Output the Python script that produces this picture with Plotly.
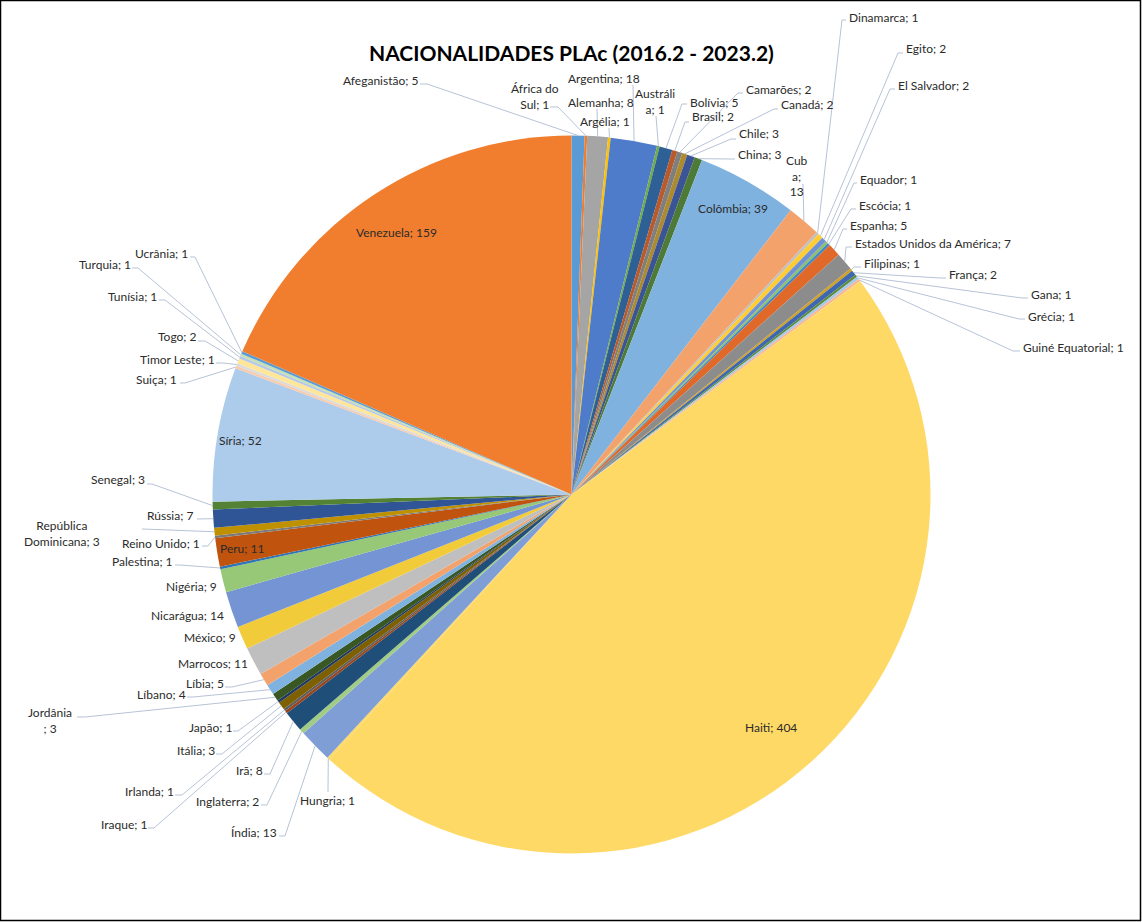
import math
import plotly.graph_objects as go

# ---------------- data ----------------
categories = [
    "Afeganistão", "África do Sul", "Alemanha", "Argélia", "Argentina", "Austrália",
    "Bolívia", "Brasil", "Camarões", "Canadá", "Chile", "China",
    "Colômbia", "Cuba", "Dinamarca", "Egito", "El Salvador", "Equador",
    "Escócia", "Espanha", "Estados Unidos da América", "Filipinas", "França", "Gana",
    "Grécia", "Guiné Equatorial", "Haiti", "Hungria", "Índia", "Inglaterra",
    "Irã", "Iraque", "Irlanda", "Itália", "Japão", "Jordânia",
    "Líbano", "Líbia", "Marrocos", "México", "Nicarágua", "Nigéria",
    "Palestina", "Peru", "Reino Unido", "República Dominicana", "Rússia", "Senegal",
    "Síria", "Suiça", "Timor Leste", "Togo", "Tunísia", "Turquia",
    "Ucrânia", "Venezuela",
]
values = [
    5, 1, 8, 1, 18, 1,
    5, 2, 2, 2, 3, 3,
    39, 13, 1, 2, 2, 1,
    1, 5, 7, 1, 2, 1,
    1, 1, 404, 1, 13, 2,
    8, 1, 1, 3, 1, 3,
    4, 5, 11, 9, 14, 9,
    1, 11, 1, 3, 7, 3,
    52, 1, 1, 2, 1, 1,
    1, 159,
]
title_text = "NACIONALIDADES PLAc (2016.2 - 2023.2)"

# ---------------- styles ----------------
colors = [
    "#5B9BD5", "#ED7D31", "#A5A5A5", "#FFC000", "#4F7BCB", "#70AD47",
    "#2E6096", "#B85A2C", "#7F7F7F", "#AD8A2E", "#3B5496", "#4E7A38",
    "#80B2E0", "#F4A26C", "#BFBFBF", "#FFCD33", "#7092D4", "#8CC168",
    "#3E87C8", "#E0692A", "#8C8C8C", "#D0A020", "#3F66B0", "#5C8C3C",
    "#A6C8EA", "#F6B894", "#FFD966", "#FFD966", "#7F9ED6", "#A0CC84",
    "#1F4E79", "#9A4318", "#5F5F5F", "#7F6000", "#203864", "#385723",
    "#80B2E0", "#F4A26C", "#BFBFBF", "#F2CB3A", "#7494D4", "#96C878",
    "#2E75B6", "#C0540F", "#7B7B7B", "#BF9000", "#2F5597", "#548235",
    "#ADCBEA", "#F8CBAD", "#DBDBDB", "#FFE699", "#B4C7E7", "#C5E0B4",
    "#5B9BD5", "#F07E2E",
]

W, H = 1142, 922
CX, CY, R = 571.5, 494.5, 359
LABEL_FONT = dict(family="Lato", size=12, color="#2b2b2b")
LEADER = "#B7C3D7"

# text wrapping used by the original labels
wraps = {
    "África do Sul": "África do<br>Sul; {v}",
    "Austrália": "Austráli<br>a; {v}",
    "Cuba": "Cub<br>a;<br>{v}",
    "Jordânia": "Jordânia<br>; {v}",
    "República Dominicana": "República<br>Dominicana; {v}",
}

# label placement (pixels): anchor, x, y, leader end (x, y), elbow x
label_pos = {
    "Afeganistão": ("right", 419, 80, (420, 84), 427),
    "África do Sul": ("center", 535, 96, (550, 107), 558),
    "Alemanha": ("center", 601, 102, (597, 109), None),
    "Argélia": ("center", 605, 122, (609, 128), None),
    "Argentina": ("center", 604, 78, (633, 85), None),
    "Austrália": ("center", 655, 101, (656, 116), None),
    "Bolívia": ("left", 689, 102, (687, 104), 682),
    "Brasil": ("left", 691, 117, (689, 122), 685),
    "Camarões": ("left", 745, 89, (743, 93), 738),
    "Canadá": ("left", 780, 105, (778, 109), 774),
    "Chile": ("left", 738, 134, (736, 139), 731),
    "China": ("left", 737, 154, (735, 159), 730),
    "Colômbia": ("center", 733, 208, None, None),
    "Cuba": ("center", 797, 176, (803, 184), None),
    "Dinamarca": ("left", 848, 17, (846, 20), 842),
    "Egito": ("left", 905, 49, (903, 53), 898),
    "El Salvador": ("left", 897, 85, (895, 89), 890),
    "Equador": ("left", 859, 179, (857, 183), 854),
    "Escócia": ("left", 858, 205, (856, 209), 851),
    "Espanha": ("left", 849, 225, (847, 229), 843),
    "Estados Unidos da América": ("left", 854, 244, (852, 247), 846),
    "Filipinas": ("left", 863, 263, (861, 267), 854),
    "França": ("left", 948, 274, (946, 278), 940),
    "Gana": ("left", 1030, 294, (1028, 298), 1022),
    "Grécia": ("left", 1027, 316, (1025, 319), 1019),
    "Guiné Equatorial": ("left", 1022, 347, (1020, 351), 1013),
    "Haiti": ("center", 771, 727, None, None),
    "Hungria": ("center", 328, 800, (328, 792), None),
    "Índia": ("right", 278, 832, (279, 836), 285),
    "Inglaterra": ("right", 260, 801, (261, 805), 267),
    "Irã": ("right", 264, 770, (264, 774), 270),
    "Iraque": ("right", 148, 824, (148, 828), 154),
    "Irlanda": ("right", 175, 791, (175, 795), 182),
    "Itália": ("right", 216, 750, (216, 754), 222),
    "Japão": ("right", 233, 727, (233, 731), 238),
    "Jordânia": ("center", 50, 720, (77, 717), 85),
    "Líbano": ("right", 187, 694, (187, 697), 193),
    "Líbia": ("right", 225, 683, (225, 687), 232),
    "Marrocos": ("right", 249, 663, None, None),
    "México": ("right", 237, 637, None, None),
    "Nicarágua": ("right", 225, 615, None, None),
    "Nigéria": ("right", 218, 586, None, None),
    "Palestina": ("right", 174, 561, (175, 565), 180),
    "Peru": ("center", 242, 548, None, None),
    "Reino Unido": ("right", 201, 543, (202, 546), 208),
    "República Dominicana": ("center", 62, 533, (142, 529), None),
    "Rússia": ("right", 194, 515, (197, 519), None),
    "Senegal": ("right", 146, 480, (147, 484), 152),
    "Síria": ("center", 240, 441, None, None),
    "Suiça": ("right", 178, 379, (180, 383), 185),
    "Timor Leste": ("right", 216, 360, (216, 363), 223),
    "Togo": ("right", 198, 337, (198, 341), 205),
    "Tunísia": ("right", 158, 296, (159, 300), 165),
    "Turquia": ("right", 132, 264, (132, 268), 138),
    "Ucrânia": ("right", 189, 253, (190, 257), 195),
    "Venezuela": ("center", 396, 233, None, None),
}


def px(x):
    return x / W


def py(y):
    return 1 - y / H


fig = go.Figure(
    go.Pie(
        labels=categories,
        values=values,
        sort=False,
        direction="clockwise",
        rotation=0,
        marker=dict(colors=colors, line=dict(width=0)),
        textinfo="none",
        hoverinfo="label+value+percent",
        showlegend=False,
        domain=dict(x=[(CX - R) / W, (CX + R) / W], y=[(H - CY - R) / H, (H - CY + R) / H]),
    )
)

total = sum(values)
annotations = []
shapes = []
cum = 0.0
for name, v in zip(categories, values):
    mid = (cum + v / 2) / total * 2 * math.pi
    cum += v
    ex0 = CX + R * math.sin(mid)
    ey0 = CY - R * math.cos(mid)
    anchor, lx, ly, end, elbow = label_pos[name]
    text = wraps.get(name, "{n}; {v}").format(n=name, v=v)
    annotations.append(dict(
        x=px(lx), y=py(ly), xref="paper", yref="paper", text=text,
        showarrow=False, xanchor=anchor, yanchor="middle", align="center",
        font=LABEL_FONT, borderpad=0,
    ))
    if end is not None:
        pts = [(ex0, ey0)]
        if elbow is not None:
            pts.append((elbow, end[1]))
        pts.append(end)
        path = "M " + " L ".join(f"{px(a):.5f},{py(b):.5f}" for a, b in pts)
        shapes.append(dict(type="path", path=path, xref="paper", yref="paper",
                           line=dict(color=LEADER, width=1)))

annotations.append(dict(
    x=px(571), y=py(52), xref="paper", yref="paper", text=f"<b>{title_text}</b>",
    showarrow=False, xanchor="center", yanchor="middle",
    font=dict(family="Lato", size=21, color="#000000"),
))

shapes.append(dict(type="rect", xref="paper", yref="paper",
                   x0=0.5 / W, x1=1 - 1.5 / W, y0=1.5 / H, y1=1 - 0.5 / H,
                   line=dict(color="#000000", width=1.5)))

fig.update_layout(
    width=W, height=H,
    margin=dict(l=0, r=0, t=0, b=0),
    paper_bgcolor="white", plot_bgcolor="white",
    annotations=annotations, shapes=shapes,
)

fig.write_html("out.html", config={"displayModeBar": False},
               post_script="document.body.style.margin='0';")
